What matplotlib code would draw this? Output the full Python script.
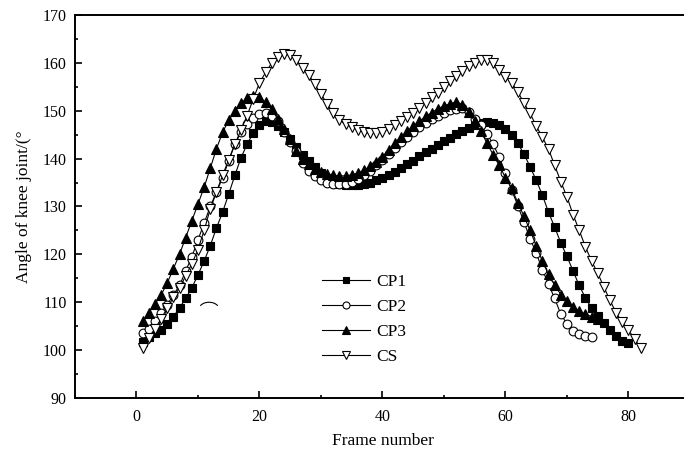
import matplotlib
matplotlib.use("Agg")
import matplotlib.pyplot as plt
from matplotlib.patches import Arc
from matplotlib.ticker import MultipleLocator

plt.rcParams["font.family"] = ["Liberation Serif", "DejaVu Serif"]

# knee joint angle per frame for each condition
cp1 = [101.8, 102.8, 103.6, 104.3, 105.5, 107.0, 108.8, 110.8, 113.0, 115.7,
       118.6, 121.8, 125.5, 128.8, 132.6, 136.5, 140.2, 143.0, 145.4, 147.0,
       147.8, 147.6, 146.8, 145.5, 144.0, 142.4, 140.8, 139.4, 138.2, 137.0,
       136.0, 135.3, 134.8, 134.5, 134.4, 134.4, 134.6, 135.0, 135.5, 136.0,
       136.6, 137.3, 138.0, 138.8, 139.6, 140.5, 141.3, 142.1, 142.9, 143.7,
       144.4, 145.1, 145.8, 146.4, 147.0, 147.4, 147.6, 147.5, 147.0, 146.2,
       145.0, 143.2, 141.0, 138.3, 135.5, 132.4, 128.8, 125.7, 122.4, 119.6,
       116.5, 113.5, 110.9, 108.8, 107.2, 105.7, 104.3, 103.0, 102.0, 101.5]

cp2 = [103.5, 104.5, 106.0, 107.8, 109.5, 111.5, 113.5, 116.5, 119.5, 123.0,
       126.5, 130.0, 133.0, 136.0, 139.5, 143.0, 145.5, 147.2, 148.5, 149.3,
       149.5, 149.0, 147.8, 145.5, 143.5, 141.5, 139.0, 137.5, 136.3, 135.5,
       135.0, 134.8, 134.7, 134.8, 135.2, 135.8, 136.5, 137.5, 138.7, 139.8,
       141.0, 142.2, 143.4, 144.5, 145.5, 146.5, 147.5, 148.3, 149.0, 149.6,
       150.1, 150.4, 150.6, 149.8, 148.3, 147.0, 145.2, 143.0, 140.3, 137.0,
       133.5, 130.2, 126.8, 123.3, 120.3, 116.8, 113.8, 110.8, 107.5, 105.5,
       104.0, 103.3, 102.9, 102.7]

cp3 = [106.0, 107.8, 109.6, 111.5, 114.0, 117.0, 120.0, 123.5, 127.0, 130.5,
       134.0, 138.0, 142.0, 145.5, 148.0, 150.0, 151.6, 152.6, 153.0, 152.8,
       151.8, 150.3, 148.2, 146.2, 144.0, 141.5, 140.0, 138.8, 137.8, 137.2,
       136.8, 136.5, 136.4, 136.4, 136.6, 137.0, 137.6, 138.4, 139.2, 140.4,
       141.8, 143.2, 144.5, 145.7, 146.8, 147.8, 148.8, 149.6, 150.4, 151.0,
       151.5, 151.8, 151.3, 149.8, 147.8, 145.8, 143.2, 140.8, 138.6, 136.0,
       133.8, 130.8, 128.0, 125.0, 121.8, 118.6, 115.8, 113.6, 111.6, 110.2,
       109.0, 108.2, 107.5, 107.0, 106.5]

cs = [100.5, 102.5, 104.5, 106.5, 108.8, 111.0, 113.0, 115.5, 118.0, 121.0,
      125.0, 129.5, 133.0, 136.5, 139.8, 143.0, 146.0, 149.0, 152.5, 155.8,
      158.0, 160.0, 161.2, 161.8, 161.6, 160.5, 159.0, 157.5, 155.5, 153.5,
      151.5, 149.5, 148.0, 147.2, 146.5, 146.0, 145.5, 145.3, 145.4, 145.6,
      146.2, 147.0, 147.8, 148.7, 149.6, 150.6, 151.7, 152.8, 153.8, 155.0,
      156.2, 157.2, 158.3, 159.3, 160.0, 160.5, 160.6, 160.0, 158.5, 157.0,
      155.8, 154.0, 151.6, 149.5, 146.8, 144.5, 142.0, 138.6, 135.2, 132.0,
      128.3, 125.0, 121.6, 118.6, 116.1, 113.2, 110.4, 107.8, 105.8, 104.2,
      102.3, 100.5]

series = [
    ("CP1", cp1, "s", "black", 5.8),
    ("CP2", cp2, "o", "white", 6.3),
    ("CP3", cp3, "^", "black", 7.0),
    ("CS", cs, "v", "white", 7.0),
]

# small arc mark left on the plot near the rising limbs
arc_center = (11.8, 108.6)
arc_size = (3.2, 2.8)

fig = plt.figure(figsize=(6.84, 4.57), dpi=100)
ax = fig.add_axes([0.1096, 0.1291, 0.8991, 0.8381])

for name, values, marker, face, size in series:
    frames = list(range(1, len(values) + 1))
    ax.plot(frames, values, color="black", linewidth=0.8, marker=marker,
            markersize=size, markerfacecolor=face, markeredgecolor="black",
            markeredgewidth=0.8, label=name)

ax.add_patch(Arc(arc_center, arc_size[0], arc_size[1], theta1=25, theta2=155,
                 color="black", linewidth=0.8))

ax.set_xlim(-10, 90)
ax.set_ylim(90, 170)
ax.xaxis.set_major_locator(MultipleLocator(20))
ax.xaxis.set_minor_locator(MultipleLocator(10))
ax.yaxis.set_major_locator(MultipleLocator(10))
ax.yaxis.set_minor_locator(MultipleLocator(5))
ax.tick_params(which="both", direction="in", top=False, right=False,
               width=1.2, labelsize=11.5)
ax.tick_params(which="major", length=5)
ax.tick_params(which="minor", length=2.5)
ax.tick_params(axis="x", pad=8)
ax.tick_params(axis="y", pad=6)
for spine in ax.spines.values():
    spine.set_linewidth(1.4)

ax.set_xlabel("Frame number", fontsize=12.5, labelpad=6)
ax.set_ylabel("Angle of knee joint/(°", fontsize=12.5, labelpad=8)

ax.legend(loc="upper left", bbox_to_anchor=(322 / 684, 1 - 274 / 457),
          bbox_transform=fig.transFigure, frameon=False, fontsize=12.5,
          handlelength=2.75, handletextpad=0.35, labelspacing=0.5,
          borderpad=0, borderaxespad=0, markerscale=0.8)

fig.savefig("out.png", dpi=100)
